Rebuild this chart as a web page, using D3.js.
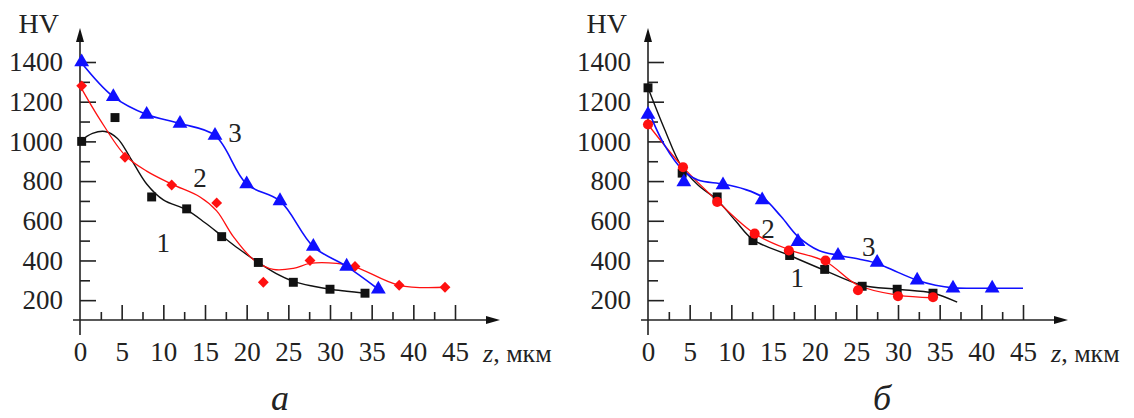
<!DOCTYPE html>
<html>
<head>
<meta charset="utf-8">
<script src="https://cdn.jsdelivr.net/npm/d3@7"></script>
<style>
  body { margin: 0; background: #fff; }
  svg text { font-family: "Liberation Serif", "Times New Roman", serif; fill: #222; }
</style>
</head>
<body>
<div class="canvas"></div>
<script>
// canvas size and shared scale settings
const w = 1134;
const h = 418;
const axisY = 320;     // pixel row of the z axis
const topY = 62;       // pixel row of HV = 1400
const xSpan = 375;     // pixels for 0..45 mkm
const serif = "Liberation Serif, Times New Roman, serif";

// tick values
const yMajor = [200, 400, 600, 800, 1000, 1200, 1400];
const yMinor = [300, 500, 700, 900, 1100, 1300];
const xMajor = [5, 10, 15, 20, 25, 30, 35, 40, 45];
const xMinor = [2.5, 7.5, 12.5, 17.5, 22.5, 27.5, 32.5, 37.5, 42.5];

// panel "а": measured points [z, HV]
const a1Points = [[0.2, 1000], [4.2, 1120], [8.6, 720], [12.8, 660], [17, 520], [21.4, 390], [25.6, 290], [30, 255], [34.2, 235]];
const a2Points = [[0.2, 1280], [5.4, 920], [11, 780], [16.4, 690], [22, 290], [27.6, 400], [33, 370], [38.3, 275], [43.8, 265]];
const a3Points = [[0.2, 1400], [4, 1225], [8, 1135], [12, 1090], [16.2, 1030], [20, 785], [24, 700], [28, 470], [32, 370], [35.8, 255]];

// panel "а": smoothed fit curves
const a1Fit = [[0, 1000], [1.5, 1040], [3, 1050], [4.5, 1015], [6, 920], [8, 785], [10, 705], [12.8, 655], [15, 590], [17, 525], [19, 460], [21.4, 390], [23.5, 335], [25.6, 295], [28, 270], [30, 255], [32, 245], [34.2, 235]];
const a2Fit = [[0, 1280], [2.4, 1110], [5.4, 930], [8, 850], [11, 785], [14.4, 720], [16.4, 650], [18.4, 520], [20.8, 405], [23.2, 355], [25.6, 360], [27.6, 385], [30.8, 385], [33, 368], [38.3, 275], [43.8, 265]];
const a3Fit = [[0, 1405], [4, 1225], [8, 1135], [12, 1090], [16.2, 1030], [20, 785], [24, 700], [28, 470], [32, 370], [35.8, 255]];

// panel "б": measured points [z, HV]
const b1Points = [[0, 1270], [4.1, 840], [8.3, 720], [12.6, 500], [17, 425], [21.2, 355], [25.7, 270], [29.9, 255], [34.2, 235]];
const b2Points = [[0, 1085], [4.2, 870], [8.3, 695], [12.8, 535], [16.9, 450], [21.3, 400], [25.2, 250], [30, 220], [34.2, 215]];
const b3Points = [[0, 1135], [4.3, 795], [9, 780], [13.7, 705], [18, 495], [22.8, 425], [27.5, 390], [32.3, 300], [36.6, 260], [41.3, 260]];

// panel "б": smoothed fit curves
const b1Fit = [[0, 1270], [2, 1060], [4, 875], [6, 780], [8.3, 705], [10.5, 600], [12.6, 505], [17, 425], [21.2, 350], [25.7, 275], [29.9, 255], [34.2, 235], [37.1, 190]];
const b2Fit = [[0, 1085], [4.2, 870], [8.3, 700], [12.8, 535], [16.9, 455], [21.3, 395], [25.2, 275], [30, 225], [34.2, 212]];
const b3Fit = [[0, 1160], [2, 980], [4.3, 850], [6, 805], [9, 785], [11.5, 760], [13.7, 720], [16, 620], [18, 520], [20.5, 450], [23, 425], [25.5, 405], [27.5, 385], [30, 340], [32.3, 300], [34.5, 275], [36.6, 262], [41.3, 260], [45, 260]];

// curve number labels [z, HV, text]
const aCurveLabels = [[10, 488, "1"], [14.4, 820, "2"], [18.6, 1047, "3"]];
const bCurveLabels = [[17.9, 312, "1"], [14.4, 563, "2"], [26.5, 468, "3"]];

const colors = { black: "#111", red: "#ff1010", blue: "#1010ff" };

const svg = d3.select(".canvas").append("svg").attr("width", w).attr("height", h);

function styleAxis(a, withText) {
  a.attr("font-family", serif);
  a.select(".domain").remove();
  a.selectAll("line").attr("stroke", "#222").attr("stroke-width", 1.6);
  if (withText) a.selectAll("text").attr("font-size", 27).attr("fill", "#222");
}

function drawPanel(x0, series, curveLabels, caption, captionX) {
  const g = svg.append("g");

  const xScale = d3.scaleLinear().domain([0, 45]).range([x0, x0 + xSpan]);
  const yScale = d3.scaleLinear().domain([100, 1400]).range([axisY, topY]);

  // y axis: long ticks with labels, short ticks between them
  g.append("g")
    .attr("transform", `translate(${x0},0)`)
    .call(d3.axisLeft(yScale).tickValues(yMajor).tickFormat(d3.format("d"))
      .tickSizeInner(-16).tickSizeOuter(0).tickPadding(17))
    .call(a => styleAxis(a, true));
  g.append("g")
    .attr("transform", `translate(${x0},0)`)
    .call(d3.axisLeft(yScale).tickValues(yMinor).tickSizeInner(-10).tickSizeOuter(0).tickFormat(""))
    .call(a => styleAxis(a, false));

  // x axis: same idea, ticks point up
  g.append("g")
    .attr("transform", `translate(0,${axisY})`)
    .call(d3.axisBottom(xScale).tickValues([0].concat(xMajor)).tickFormat(d3.format("d"))
      .tickSizeInner(-15).tickSizeOuter(0).tickPadding(22))
    .call(a => styleAxis(a, true))
    .call(a => a.selectAll("line").attr("opacity", d => d === 0 ? 0 : 1));
  g.append("g")
    .attr("transform", `translate(0,${axisY})`)
    .call(d3.axisBottom(xScale).tickValues(xMinor).tickSizeInner(-8).tickSizeOuter(0).tickFormat(""))
    .call(a => styleAxis(a, false));

  // axis lines with arrow heads
  const xEnd = x0 + 420;
  g.append("line").attr("x1", x0 - 7).attr("x2", xEnd - 8).attr("y1", axisY).attr("y2", axisY)
    .attr("stroke", "#222").attr("stroke-width", 1.6);
  g.append("path").attr("d", `M${xEnd},${axisY} L${xEnd - 14},${axisY - 4} L${xEnd - 14},${axisY + 4} Z`).attr("fill", "#111");
  g.append("line").attr("x1", x0).attr("x2", x0).attr("y1", axisY + 15).attr("y2", 40)
    .attr("stroke", "#222").attr("stroke-width", 1.6);
  g.append("path").attr("d", `M${x0},${28} L${x0 - 4},${42} L${x0 + 4},${42} Z`).attr("fill", "#111");

  g.append("text").attr("x", x0 - 21).attr("y", 33).attr("text-anchor", "end")
    .style("font-size", "28px").text("HV");

  const zLabel = g.append("text").attr("x", x0 + 403).attr("y", 362).style("font-size", "26px");
  zLabel.append("tspan").style("font-style", "italic").text("z");
  zLabel.append("tspan").text(", мкм");

  g.append("text").attr("x", captionX).attr("y", 410).attr("text-anchor", "middle")
    .style("font-size", "36px").style("font-style", "italic").text(caption);

  // fitted curves
  const line = d3.line().x(d => xScale(d[0])).y(d => yScale(d[1])).curve(d3.curveCatmullRom.alpha(0.5));
  series.forEach(s => {
    g.append("path").datum(s.fit).attr("d", line)
      .attr("fill", "none").attr("stroke", s.color).attr("stroke-width", s.width);
  });

  // markers
  series.forEach(s => {
    const sym = d3.symbol().type(s.shape).size(s.size);
    g.append("g").selectAll("path").data(s.points).join("path")
      .attr("transform", d => `translate(${xScale(d[0])},${yScale(d[1])})`)
      .attr("d", sym).attr("fill", s.color);
  });

  g.append("g").selectAll("text").data(curveLabels).join("text")
    .attr("x", d => xScale(d[0])).attr("y", d => yScale(d[1]))
    .attr("text-anchor", "middle").attr("dy", "0.35em")
    .style("font-size", "27px").text(d => d[2]);
}

drawPanel(80, [
  { points: a1Points, fit: a1Fit, color: colors.black, width: 1.4, shape: d3.symbolSquare, size: 80 },
  { points: a2Points, fit: a2Fit, color: colors.red, width: 1.3, shape: d3.symbolDiamond2, size: 75 },
  { points: a3Points, fit: a3Fit, color: colors.blue, width: 1.6, shape: d3.symbolTriangle, size: 95 }
], aCurveLabels, "а", 280);

drawPanel(648, [
  { points: b1Points, fit: b1Fit, color: colors.black, width: 1.4, shape: d3.symbolSquare, size: 80 },
  { points: b2Points, fit: b2Fit, color: colors.red, width: 1.3, shape: d3.symbolCircle, size: 80 },
  { points: b3Points, fit: b3Fit, color: colors.blue, width: 1.6, shape: d3.symbolTriangle, size: 95 }
], bCurveLabels, "б", 882);
</script>
</body>
</html>
